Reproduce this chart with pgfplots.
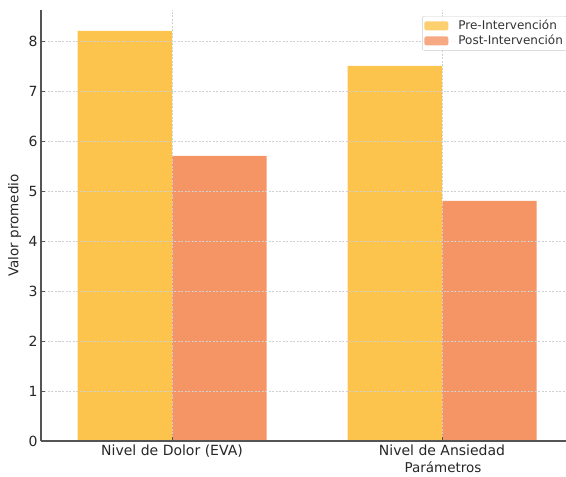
\documentclass[border=0pt]{standalone}
\usepackage{pgfplots}
\pgfplotsset{compat=1.18}
\usepackage{fontspec}
\setmainfont{DejaVu Sans}
\definecolor{preC}{HTML}{FCC44C}
\definecolor{postC}{HTML}{F59565}
\definecolor{axC}{HTML}{555555}
\begin{document}
\begin{tikzpicture}
\begin{axis}[name=ax,
  scale only axis, width=525pt, height=431pt,
  xmin=-0.4852, xmax=1.4593, ymin=0, ymax=8.62,
  axis x line*=bottom, axis y line*=left,
  axis line style={axC, line width=1.2pt},
  axis on top,
  xtick={0,1}, xticklabels={Nivel de Dolor (EVA), Nivel de Ansiedad},
  ytick={0,1,...,8},
  tick align=inside, major tick length=4pt,
  tick style={axC, line width=0.8pt},
  /pgf/number format/assume math mode=true,
  ticklabel style={font=\fontsize{14}{16}\selectfont, text=black!85},
  xmajorgrids, ymajorgrids,
  major grid style={dash pattern=on 2pt off 1.5pt, black!18, line width=0.6pt},
  ylabel={Valor promedio}, xlabel={Parámetros},
  label style={font=\fontsize{13.5}{16}\selectfont, text=black!85},
  ylabel style={at={(axis description cs:-0.05,0.5)}, anchor=center},
  xlabel style={at={(axis description cs:0.7657,-0.0603)}, anchor=center},
  legend style={at={(axis description cs:0.726,0.986)}, anchor=north west,
    draw=black!20, rounded corners=2pt, fill=white, fill opacity=0.8, text opacity=1,
    font=\fontsize{12}{13}\selectfont, text=black!80, row sep=0pt, inner sep=2pt,
    column sep=8pt},
  legend image code/.code={\fill[#1] (3pt,-4.5pt) rectangle (27pt,4.5pt);},
  legend cell align=left,
]
\addplot[ybar, bar width=0.35, bar shift=-0.175, fill=preC, draw=none] coordinates {(0,8.2) (1,7.5)};
\addlegendentry{Pre-Intervención}
\addplot[ybar, bar width=0.35, bar shift=0.175, fill=postC, draw=none] coordinates {(0,5.7) (1,4.8)};
\addlegendentry{Post-Intervención}
\end{axis}
\pgfresetboundingbox
\useasboundingbox ([xshift=-41pt,yshift=-35pt]ax.south west) rectangle ([yshift=10pt]ax.north east);
\end{tikzpicture}
\end{document}
